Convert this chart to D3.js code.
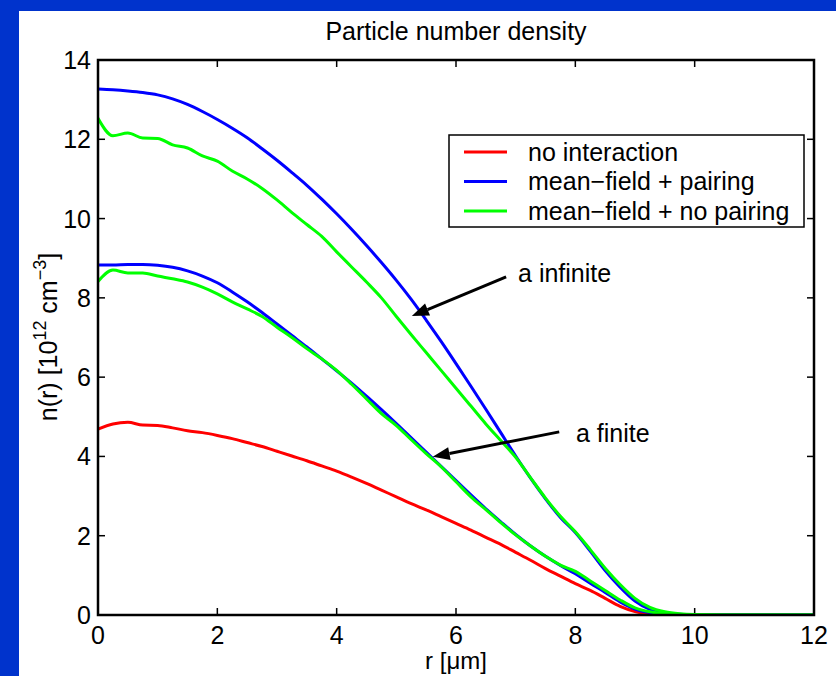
<!DOCTYPE html>
<html>
<head>
<meta charset="utf-8">
<script src="https://cdn.jsdelivr.net/npm/d3@7"></script>
<style>
  html, body { margin: 0; padding: 0; background: #0033cc; }
  svg { display: block; }
  text { font-family: "Liberation Sans", Arial, Helvetica, sans-serif; fill: #000; }
</style>
</head>
<body>
<script>
// ---------------- data ----------------
const rValues = [0,0.25,0.5,0.75,1,1.25,1.5,1.75,2,2.25,2.5,2.75,3,3.25,3.5,3.75,4,4.25,4.5,4.75,5,5.25,5.5,5.75,6,6.25,6.5,6.75,7,7.25,7.5,7.75,8,8.25,8.5,8.75,9,9.25,9.5,9.75,10,10.5,11,11.5,12];

const noInteraction = [4.69,4.82,4.86,4.79,4.78,4.72,4.65,4.60,4.53,4.45,4.35,4.25,4.13,4.01,3.89,3.76,3.63,3.48,3.32,3.15,2.98,2.81,2.65,2.48,2.31,2.14,1.96,1.78,1.58,1.38,1.17,0.98,0.79,0.62,0.42,0.22,0.09,0.03,0.01,0,0,0,0,0,0];

const pairingInfinite = [13.27,13.25,13.22,13.18,13.12,13.02,12.88,12.70,12.50,12.28,12.04,11.76,11.47,11.16,10.84,10.49,10.12,9.73,9.32,8.89,8.44,7.96,7.44,6.90,6.34,5.77,5.19,4.60,4.01,3.45,2.93,2.46,2.08,1.61,1.12,0.70,0.35,0.14,0.05,0.02,0,0,0,0,0];

const pairingFinite = [8.83,8.83,8.84,8.84,8.82,8.77,8.68,8.55,8.38,8.15,7.90,7.63,7.34,7.05,6.76,6.46,6.16,5.85,5.52,5.18,4.83,4.47,4.11,3.75,3.39,3.03,2.68,2.35,2.03,1.74,1.48,1.25,1.04,0.80,0.57,0.33,0.15,0.06,0.02,0.01,0,0,0,0,0];

const noPairingInfinite = [12.53,12.09,12.16,12.03,12.02,11.86,11.78,11.58,11.45,11.20,11.00,10.76,10.47,10.15,9.85,9.55,9.16,8.78,8.40,8.00,7.53,7.07,6.62,6.17,5.72,5.27,4.82,4.40,3.98,3.46,2.95,2.49,2.10,1.65,1.18,0.77,0.42,0.19,0.08,0.03,0.01,0,0,0,0];

const noPairingFinite = [8.41,8.70,8.63,8.63,8.55,8.48,8.40,8.27,8.10,7.90,7.72,7.53,7.26,7.00,6.72,6.46,6.17,5.82,5.45,5.08,4.78,4.42,4.07,3.74,3.36,2.98,2.66,2.33,2.02,1.74,1.48,1.26,1.10,0.86,0.62,0.38,0.18,0.08,0.03,0.01,0,0,0,0,0];

const xTicks = [0,2,4,6,8,10,12];
const yTicks = [0,2,4,6,8,10,12,14];

const legendLabels = ["no interaction", "mean\u2212field + pairing", "mean\u2212field + no pairing"];
const legendColors = ["#ff0000", "#0000ff", "#00ff00"];

const titleText = "Particle number density";
const xLabelText = "r [\u03bcm]";

// annotations in data coordinates: [text, textR, textV, tailR, tailV, tipR, tipV]
const annotations = [
  ["a infinite", 7.04, 8.40, 6.84, 8.53, 5.26, 7.54],
  ["a finite",   8.01, 4.36, 7.73, 4.62, 5.61, 3.99]
];

// ---------------- drawing ----------------
(function () {
const W = 836, H = 676;
const svg = d3.select("body").append("svg").attr("width", W).attr("height", H);

svg.append("rect").attr("x", 0).attr("y", 0).attr("width", W).attr("height", H).attr("fill", "#0033cc");
svg.append("rect").attr("x", 19).attr("y", 11).attr("width", W - 19).attr("height", H - 11).attr("fill", "#ffffff");

const pL = 98, pR = 814, pT = 60, pB = 615;
const x = d3.scaleLinear().domain([0, 12]).range([pL, pR]);
const y = d3.scaleLinear().domain([0, 14]).range([pB, pT]);

svg.append("defs").append("clipPath").attr("id", "clip")
  .append("rect").attr("x", pL).attr("y", pT).attr("width", pR - pL).attr("height", pB - pT);

const FS = 25;

// ticks (inside, mirrored)
const tickLen = 7;
const tg = svg.append("g").attr("stroke", "#000").attr("stroke-width", 1.5);
xTicks.forEach(t => {
  tg.append("line").attr("x1", x(t)).attr("x2", x(t)).attr("y1", pB).attr("y2", pB - tickLen);
  tg.append("line").attr("x1", x(t)).attr("x2", x(t)).attr("y1", pT).attr("y2", pT + tickLen);
});
yTicks.forEach(t => {
  tg.append("line").attr("x1", pL).attr("x2", pL + tickLen).attr("y1", y(t)).attr("y2", y(t));
  tg.append("line").attr("x1", pR).attr("x2", pR - tickLen).attr("y1", y(t)).attr("y2", y(t));
});

// tick labels
svg.append("g").selectAll("text").data(xTicks).join("text")
  .attr("x", d => x(d)).attr("y", pB + 29)
  .attr("text-anchor", "middle").attr("font-size", FS).text(d => d);
svg.append("g").selectAll("text").data(yTicks).join("text")
  .attr("x", pL - 7).attr("y", d => y(d) + 9)
  .attr("text-anchor", "end").attr("font-size", FS).text(d => d);

// lines
const line = d3.line().x(d => x(d[0])).y(d => y(d[1])).curve(d3.curveMonotoneX);
const series = [
  [noInteraction, legendColors[0]],
  [pairingInfinite, legendColors[1]],
  [pairingFinite, legendColors[1]],
  [noPairingInfinite, legendColors[2]],
  [noPairingFinite, legendColors[2]]
];
const lg = svg.append("g").attr("clip-path", "url(#clip)");
series.forEach(([vals, col]) => {
  lg.append("path")
    .datum(rValues.map((r, i) => [r, vals[i]]))
    .attr("fill", "none").attr("stroke", col).attr("stroke-width", 3)
    .attr("stroke-linejoin", "round").attr("stroke-linecap", "round")
    .attr("d", line);
});

// axes box
svg.append("rect").attr("x", pL).attr("y", pT).attr("width", pR - pL).attr("height", pB - pT)
  .attr("fill", "none").attr("stroke", "#000").attr("stroke-width", 2.5);

// title and labels
svg.append("text").attr("x", (pL + pR) / 2).attr("y", 40).attr("text-anchor", "middle")
  .attr("font-size", FS).text(titleText);
svg.append("text").attr("x", (pL + pR) / 2).attr("y", 669).attr("text-anchor", "middle")
  .attr("font-size", FS - 1).text(xLabelText);

const yl = svg.append("text").attr("transform", "translate(57,337) rotate(-90)")
  .attr("text-anchor", "middle").attr("font-size", FS);
yl.append("tspan").text("n(r) [10");
yl.append("tspan").attr("font-size", 18).attr("dy", -11).text("12");
yl.append("tspan").attr("dy", 11).text(" cm");
yl.append("tspan").attr("font-size", 18).attr("dy", -11).text("\u22123");
yl.append("tspan").attr("dy", 11).text("]");

// legend
const legX = 449, legY = 135, legW = 355, legH = 92;
svg.append("rect").attr("x", legX).attr("y", legY).attr("width", legW).attr("height", legH)
  .attr("fill", "#fff").attr("stroke", "#000").attr("stroke-width", 1.5);
legendLabels.forEach((lab, i) => {
  const ry = legY + 17 + i * 29.5;
  svg.append("line").attr("x1", legX + 15).attr("x2", legX + 58).attr("y1", ry).attr("y2", ry)
    .attr("stroke", legendColors[i]).attr("stroke-width", 3);
  svg.append("text").attr("x", legX + 79).attr("y", ry + 8.5).attr("font-size", FS).text(lab);
});

// annotations with arrows
annotations.forEach(([txt, tr, tv, ar, av, br, bv]) => {
  const x1 = x(ar), y1 = y(av), x2 = x(br), y2 = y(bv);
  const ang = Math.atan2(y2 - y1, x2 - x1);
  const hl = 17, hw = 6.5;
  const bx = x2 - hl * Math.cos(ang), by = y2 - hl * Math.sin(ang);
  svg.append("line").attr("x1", x1).attr("y1", y1).attr("x2", bx).attr("y2", by)
    .attr("stroke", "#000").attr("stroke-width", 3);
  const px = -Math.sin(ang) * hw, py = Math.cos(ang) * hw;
  svg.append("path")
    .attr("d", `M${x2},${y2}L${bx + px},${by + py}L${bx - px},${by - py}Z`)
    .attr("fill", "#000");
  svg.append("text").attr("x", x(tr)).attr("y", y(tv)).attr("font-size", FS).text(txt);
});
})();
</script>
</body>
</html>
